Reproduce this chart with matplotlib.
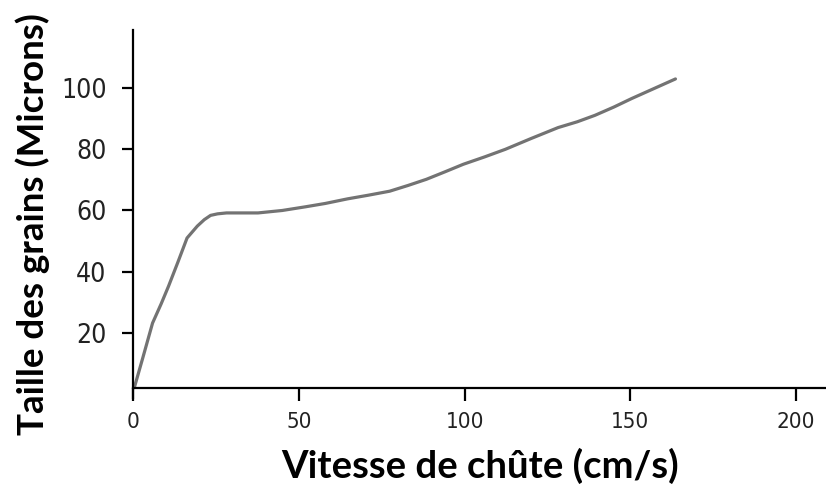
import matplotlib
matplotlib.use("Agg")
import matplotlib.pyplot as plt

# Data
vitesse = [0.4, 3.0, 5.9, 8.5, 10.7, 13.5, 16.3, 19.4, 21.5, 23.4, 25.5, 28.2,
           33.0, 37.7, 45.0, 52.0, 58.0, 64.7, 71.0, 77.4, 83.0, 88.5, 94.0,
           99.6, 106.0, 112.3, 120.0, 128.2, 134.0, 139.3, 145.0, 150.4, 157.0, 163.6]
taille = [2.1, 12.0, 23.2, 29.5, 35.2, 43.0, 51.0, 54.9, 57.0, 58.4, 58.9, 59.2,
          59.2, 59.2, 60.0, 61.2, 62.3, 63.8, 65.0, 66.3, 68.2, 70.2, 72.6,
          75.1, 77.5, 80.0, 83.5, 87.1, 89.0, 91.1, 93.8, 96.6, 99.8, 103.0]

xticks = [0, 50, 100, 150, 200]
yticks = [20, 40, 60, 80, 100]
xlabel = "Vitesse de chûte (cm/s)"
ylabel = "Taille des grains (Microns)"

W, H = 826, 486
fig = plt.figure(figsize=(W / 100, H / 100), dpi=100)

# axes geometry in pixels
left_px, right_px, top_px, bot_px = 133, 826, 30, 398
ax = fig.add_axes([left_px / W, 1 - bot_px / H, (right_px - left_px) / W, (bot_px - top_px) / H])

ax.plot(vitesse, taille, color="#737373", lw=2.3, solid_capstyle="round")

ax.set_xlim(0, 209)
ax.set_ylim(-1.3, 119)

ax.spines["top"].set_visible(False)
ax.spines["right"].set_visible(False)
ax.spines["bottom"].set_position(("data", 2))
for s in ("left", "bottom"):
    ax.spines[s].set_linewidth(1.6)
    ax.spines[s].set_color("black")

ax.set_xticks(xticks)
ax.set_yticks(yticks)
ax.tick_params(axis="x", direction="out", length=9, width=1.6, pad=8, colors="black")
ax.tick_params(axis="y", direction="out", length=8, width=1.6, pad=11, colors="black")
ax.set_xticklabels([str(t) for t in xticks], fontfamily="DejaVu Sans",
                   fontstretch="condensed", fontsize=16, color="#222222")
ax.set_yticklabels([str(t) for t in yticks], fontfamily="DejaVu Sans",
                   fontstretch="condensed", fontsize=19, color="#222222")

fig.text(480 / W, 1 - 466 / H, xlabel, ha="center", va="center",
         fontsize=27.5, fontweight="bold", fontfamily="Lato")
fig.text(33 / W, 1 - 224 / H, ylabel, ha="center", va="center", rotation=90,
         fontsize=26.5, fontweight="bold", fontfamily="Lato")

fig.savefig("out.png", dpi=100)
